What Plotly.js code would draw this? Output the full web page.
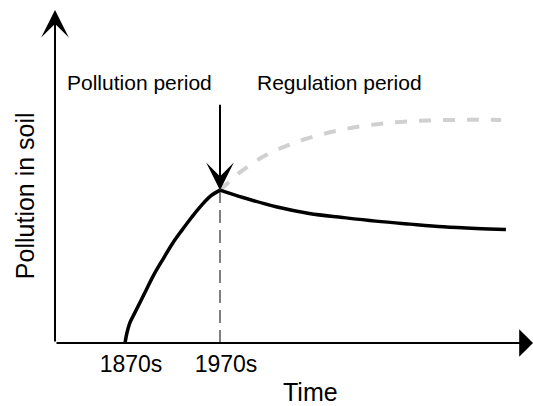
<!DOCTYPE html>
<html>
<head>
<meta charset="utf-8">
<script src="https://cdn.plot.ly/plotly-3.0.1.min.js"></script>
<style>html,body{margin:0;padding:0;background:#fff;}#chart{width:533px;height:406px;}</style>
</head>
<body>
<div id="chart"></div>
<script>
// Pollution period (rise)
var riseYears = [1870, 1872, 1875, 1880, 1890, 1900, 1910, 1920, 1930, 1940, 1950, 1960, 1970];
var riseValues = [0, 3.0, 6.0, 8.9, 14.6, 20.3, 25.2, 29.9, 33.9, 37.7, 41.2, 44.1, 45.9];
// Regulation period (actual, black)
var regYears = [1970, 1994, 2029, 2064, 2099, 2134, 2170, 2205, 2240, 2271];
var regValues = [45.9, 43.7, 40.9, 38.9, 37.7, 36.6, 35.7, 34.9, 34.4, 34.1];
// Without regulation (gray dashed)
var noRegYears = [1970, 1994, 2019, 2047, 2082, 2117, 2152, 2187, 2222, 2266];
var noRegValues = [45.9, 51.9, 56.5, 60.0, 63.0, 65.0, 66.2, 66.8, 67.0, 67.0];
// Tick labels
var tickYears = [1870, 1970];
var tickLabels = ["1870s", "1970s"];
var periodLabels = ["Pollution period", "Regulation period"];
var xTitle = "Time";
var yTitle = "Pollution in soil";

var FONT = "Liberation Sans, Arial, sans-serif";
var xMin = 1796.3, xMax = 2299.5, yMin = 0, yMax = 100;

var traces = [
  {x: [tickYears[1], tickYears[1]], y: [0, riseValues[riseValues.length-1]], mode: 'lines',
   line: {color: '#000', width: 1, dash: '13px,7px'}, hoverinfo: 'skip'},
  {x: noRegYears, y: noRegValues, mode: 'lines', line: {color: '#d0d0d0', width: 4, dash: '12px,12px', shape: 'spline'}, hoverinfo: 'skip'},
  {x: riseYears, y: riseValues, mode: 'lines', line: {color: '#000', width: 3.5, shape: 'spline'}, hoverinfo: 'skip'},
  {x: regYears, y: regValues, mode: 'lines', line: {color: '#000', width: 3.5, shape: 'spline'}, hoverinfo: 'skip'}
];

var annotations = [
  // x axis arrow
  {x: xMax, y: 0, xref: 'x', yref: 'y', axref: 'x', ayref: 'y', ax: xMin, ay: 0,
   showarrow: true, arrowhead: 1, arrowsize: 2.3, arrowwidth: 2, arrowcolor: '#000', standoff: 0, text: ''},
  // y axis arrow
  {x: xMin, y: yMax, xref: 'x', yref: 'y', axref: 'x', ayref: 'y', ax: xMin, ay: 0,
   showarrow: true, arrowhead: 3, arrowsize: 2.3, arrowwidth: 2, arrowcolor: '#000', standoff: 0, text: ''},
  // down arrow to 1970 peak
  {x: tickYears[1], y: riseValues[riseValues.length-1], xref: 'x', yref: 'y', axref: 'x', ayref: 'y', ax: tickYears[1], ay: 72,
   showarrow: true, arrowhead: 3, arrowsize: 2.3, arrowwidth: 2, arrowcolor: '#000', standoff: 0, text: ''},
  {x: 1885.3, y: 78.1, xref: 'x', yref: 'y', text: periodLabels[0], showarrow: false,
   font: {family: FONT, size: 21, color: '#000'}},
  {x: 2095.8, y: 78.1, xref: 'x', yref: 'y', text: periodLabels[1], showarrow: false,
   font: {family: FONT, size: 21, color: '#000'}},
  {x: 0.5335, y: -0.148, xref: 'paper', yref: 'paper', xanchor: 'center', yanchor: 'middle', text: xTitle, showarrow: false,
   font: {family: FONT, size: 25, color: '#000'}},
  {x: -0.0628, y: 0.444, xref: 'paper', yref: 'paper', xanchor: 'center', yanchor: 'middle', text: yTitle, showarrow: false, textangle: -90,
   font: {family: FONT, size: 25, color: '#000'}}
];

var layout = {
  width: 533, height: 406,
  margin: {l: 55, r: 0, t: 10, b: 63, pad: 0},
  paper_bgcolor: '#fff', plot_bgcolor: '#fff',
  showlegend: false,
  xaxis: {range: [xMin, xMax], showgrid: false, zeroline: false, showline: false,
          tickmode: 'array', tickvals: tickYears, ticktext: tickLabels, ticks: '',
          ticklabelshift: 6, ticklabelstandoff: 5,
          tickfont: {family: FONT, size: 23, color: '#000'}},
  yaxis: {range: [yMin, yMax], showgrid: false, zeroline: false, showline: false, showticklabels: false, ticks: ''},
  annotations: annotations
};

Plotly.newPlot('chart', traces, layout, {displayModeBar: false, staticPlot: true});
</script>
</body>
</html>
